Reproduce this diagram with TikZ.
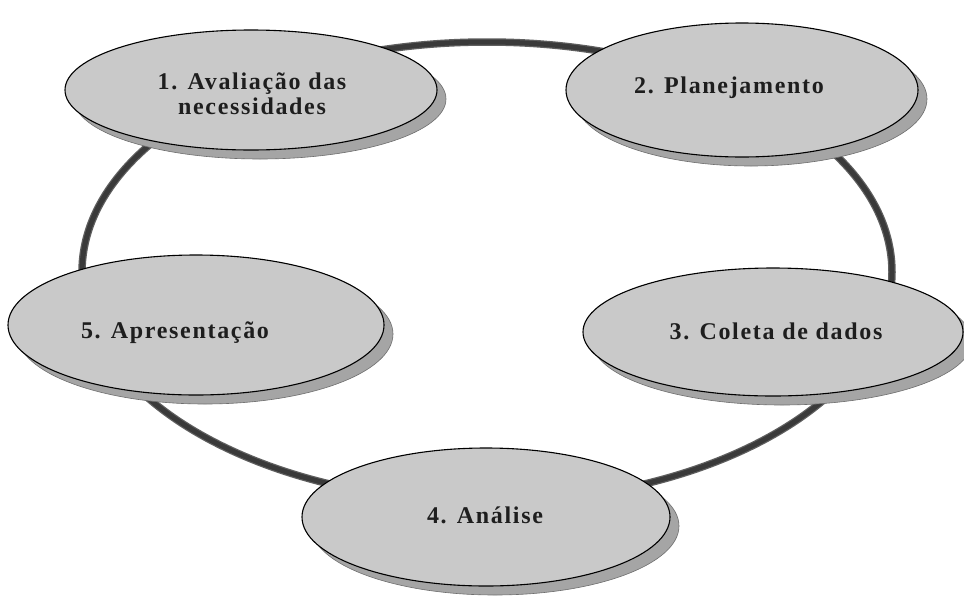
\documentclass[tikz,border=0pt]{standalone}
\usepackage{fontspec}
\setmainfont{Liberation Serif}
\usetikzlibrary{shapes.geometric,shadows}

\definecolor{ringcol}{RGB}{58,58,58}
\definecolor{ringedge}{RGB}{95,95,95}
\definecolor{stagefill}{RGB}{201,201,201}
\definecolor{shadowfill}{RGB}{165,165,165}
\definecolor{shadowedge}{RGB}{110,110,110}
\definecolor{textcol}{RGB}{30,30,30}

\tikzset{
  ring/.style={draw=ringedge, line width=7.5pt},
  ringcore/.style={draw=ringcol, line width=5pt},
  stage/.style={ellipse, draw=black, line width=1.1pt, fill=stagefill,
    inner sep=0pt,
    drop shadow={shadow xshift=9pt, shadow yshift=-9pt, fill=shadowfill,
      draw=shadowedge, line width=0.6pt, opacity=1}},
  stagetext/.style={align=center, text=textcol, inner sep=0pt,
    font=\fontsize{24}{25}\selectfont\bfseries\addfontfeature{LetterSpace=7}}
}

\begin{document}
\begin{tikzpicture}[x=1pt,y=-1pt]
  \useasboundingbox (0,0) rectangle (964,595);
  \fill[white] (0,0) rectangle (964,595);

  % the cycle behind the stages
  \coordinate (hub) at (487,272);
  \draw[ring] (hub) ellipse [x radius=405, y radius=230];
  \draw[ringcore] (hub) ellipse [x radius=405, y radius=230];

  % stage ellipses
  \node[stage, minimum width=372pt, minimum height=120pt] (e1) at (251,90) {};
  \node[stage, minimum width=352pt, minimum height=134pt] (e2) at (742,90) {};
  \node[stage, minimum width=380pt, minimum height=128pt] (e3) at (773,332) {};
  \node[stage, minimum width=368pt, minimum height=138pt] (e4) at (486,517) {};
  \node[stage, minimum width=376pt, minimum height=140pt] (e5) at (196,325) {};

  % stage labels
  \node[stagetext] (t1) at (252,94) {1. Avaliação das\\necessidades};
  \node[stagetext] (t2) at (729,88) {2. Planejamento};
  \node[stagetext] (t3) at (776,331) {3. Coleta de dados};
  \node[stagetext] (t4) at (485,515) {4. Análise};
  \node[stagetext] (t5) at (175,333) {5. Apresentação};
\end{tikzpicture}
\end{document}
